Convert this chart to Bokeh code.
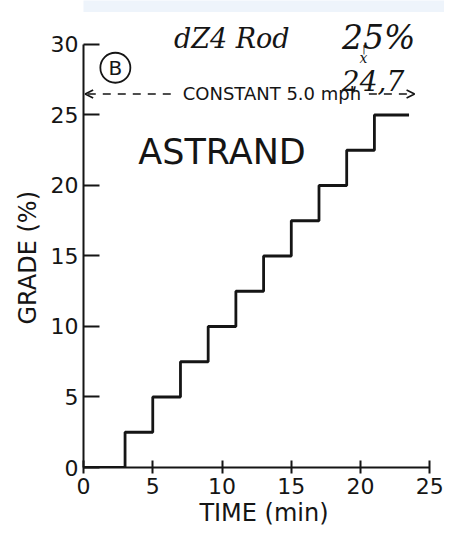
from bokeh.plotting import figure
from bokeh.models import Range1d, FixedTicker, Label, Arrow, OpenHead, BoxAnnotation, Title
from bokeh.embed import file_html
from bokeh.resources import INLINE

# ---- data ----
time_min = [0, 3, 5, 7, 9, 11, 13, 15, 17, 19, 21, 23.5]
grade_pct = [0, 2.5, 5, 7.5, 10, 12.5, 15, 17.5, 20, 22.5, 25, 25]
x_ticks = [0, 5, 10, 15, 20, 25]
y_ticks = [0, 5, 10, 15, 20, 25, 30]

INK = "#151515"
FONT = "DejaVu Sans"
HAND = "DejaVu Serif"

p = figure(width=444, height=529, output_backend="svg", toolbar_location=None,
           x_range=Range1d(0, 26.06), y_range=Range1d(0, 33.12),
           min_border_left=83, min_border_right=0, min_border_top=0, min_border_bottom=61)
p.outline_line_color = None
p.grid.visible = False
p.background_fill_color = "white"
p.border_fill_color = "white"

# axes
xa = p.xaxis[0]
xa.ticker = FixedTicker(ticks=x_ticks)
xa.bounds = (0, 25)
xa.axis_line_width = 2
xa.axis_line_color = INK
xa.major_tick_line_width = 2
xa.major_tick_line_color = INK
xa.major_tick_in = 7
xa.major_tick_out = 6
xa.minor_tick_line_color = None
xa.major_label_text_font = FONT
xa.major_label_text_font_size = "22px"
xa.major_label_text_color = INK
xa.major_label_standoff = 4
xa.axis_label = "TIME (min)"
xa.axis_label_text_font = FONT
xa.axis_label_text_font_size = "24px"
xa.axis_label_text_font_style = "normal"
xa.axis_label_text_color = INK
xa.axis_label_standoff = 2

ya = p.yaxis[0]
ya.ticker = FixedTicker(ticks=y_ticks)
ya.bounds = (0, 30)
ya.axis_line_width = 2
ya.axis_line_color = INK
ya.major_tick_line_width = 2
ya.major_tick_line_color = INK
ya.major_tick_in = 16
ya.major_tick_out = 0
ya.minor_tick_line_color = None
ya.major_label_text_font = FONT
ya.major_label_text_font_size = "22px"
ya.major_label_text_color = INK
ya.major_label_standoff = 5

# y axis title, centred on the 0-30 axis span
p.add_layout(Title(text="GRADE (%)", align="left", offset=143, standoff=12,
                   text_font=FONT, text_font_size="24px", text_font_style="normal",
                   text_color=INK), "left")

# light band across the top of the scanned page
p.add_layout(BoxAnnotation(left=-10, right=30, bottom=32.3, top=34, fill_color="#eef4fb",
                           fill_alpha=1, line_color=None, level="underlay"))

# step curve
p.step(x=time_min, y=grade_pct, mode="after", line_width=2.8, line_color=INK)

# circled B
p.scatter(x=[2.3], y=[28.35], size=30, marker="circle", fill_color=None,
          line_color=INK, line_width=1.8)
p.add_layout(Label(x=2.3, y=28.35, text="B", text_align="center", text_baseline="middle",
                   text_font=FONT, text_font_size="20px", text_color=INK))

# constant speed annotation
p.add_layout(Label(x=13.6, y=26.49, text="CONSTANT 5.0 mph", text_align="center",
                   text_baseline="middle", text_font=FONT, text_font_size="18px",
                   text_color=INK))
p.add_layout(Arrow(x_start=6.3, y_start=26.49, x_end=0.12, y_end=26.49,
                   line_color=INK, line_width=1.6, line_dash="8 7",
                   end=OpenHead(size=8, line_color=INK, line_width=1.6)))
p.add_layout(Arrow(x_start=20.6, y_start=26.49, x_end=23.9, y_end=26.49,
                   line_color=INK, line_width=1.6, line_dash="8 7",
                   end=OpenHead(size=8, line_color=INK, line_width=1.6)))

# handwriting
p.add_layout(Label(x=10.0, y=22.35, text="ASTRAND", text_align="center",
                   text_baseline="alphabetic", text_font=FONT, text_font_size="35px",
                   text_color=INK))
p.add_layout(Label(x=10.7, y=30.41, text="dZ4 Rod", text_align="center",
                   text_baseline="alphabetic", text_font=HAND,
                   text_font_style="italic", text_font_size="27px", text_color=INK))
p.add_layout(Label(x=21.3, y=30.48, text="25%", text_align="center",
                   text_baseline="alphabetic", text_font=HAND,
                   text_font_style="italic", text_font_size="33px", text_color=INK))
p.add_layout(Label(x=20.25, y=29.75, text="|", text_align="center",
                   text_baseline="alphabetic", text_font=HAND,
                   text_font_size="10px", text_color=INK))
p.add_layout(Label(x=20.2, y=29.05, text="x", text_align="center",
                   text_baseline="alphabetic", text_font=HAND,
                   text_font_style="italic", text_font_size="14px", text_color=INK))
p.add_layout(Label(x=20.9, y=27.45, text="24,7", text_align="center",
                   text_baseline="alphabetic", text_font=HAND,
                   text_font_style="italic", text_font_size="28px", text_color=INK))

open("out.html", "w").write(file_html(p, INLINE))
